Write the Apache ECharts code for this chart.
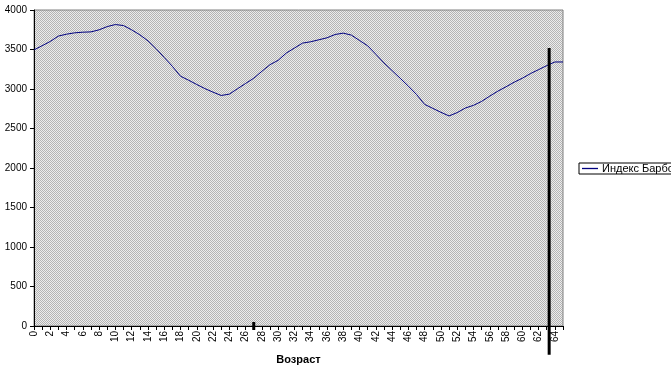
<!DOCTYPE html>
<html>
<head>
<meta charset="utf-8">
<script src="https://cdn.jsdelivr.net/npm/echarts@6/dist/echarts.min.js"></script>
<style>
	html, body { margin: 0; padding: 0; background: #fff; }
	#chart { width: 671px; height: 370px; }
</style>
</head>
<body>
<div id="chart"></div>
<script>
// возраст 0..65
var ages = [];
for (var i = 0; i <= 65; i++) { ages.push(i); }

// Индекс Барбса
var barbs = [3495, 3548, 3602, 3670, 3694, 3711, 3719, 3723, 3749, 3790,
	3816, 3803, 3749, 3686, 3610, 3510, 3400, 3287, 3162, 3111,
	3057, 3005, 2960, 2918, 2935, 3003, 3070, 3136, 3224, 3308,
	3363, 3455, 3518, 3581, 3598, 3623, 3648, 3690, 3707, 3682,
	3614, 3547, 3440, 3330, 3233, 3136, 3036, 2931, 2805, 2755,
	2705, 2659, 2701, 2759, 2793, 2843, 2910, 2973, 3028, 3086,
	3136, 3195, 3245, 3296, 3342, 3342];

var yTicks = [0, 500, 1000, 1500, 2000, 2500, 3000, 3500, 4000];

// вертикальная отметка
var markAge = 63.3;
var markTop = 3520;
var markBottom = -365;
var tickAge = 27;

window.onload = function () {
	var chart = echarts.init(document.getElementById('chart'));

	// серая штриховка как в Excel
	var pat = document.createElement('canvas');
	pat.width = 2;
	pat.height = 2;
	var ctx = pat.getContext('2d');
	ctx.fillStyle = '#ececec';
	ctx.fillRect(0, 0, 2, 2);
	ctx.fillStyle = '#b4b4b4';
	ctx.fillRect(0, 0, 1, 1);
	ctx.fillRect(1, 1, 1, 1);

	var pts = [];
	for (var k = 0; k < ages.length; k++) {
		pts.push([ages[k], barbs[k]]);
	}

	var option = {
		animation: false,
		textStyle: { fontFamily: 'Liberation Sans, Arial, sans-serif', color: '#000' },
		grid: {
			left: 34,
			top: 10,
			right: 108,
			bottom: 42,
			show: true,
			backgroundColor: { image: pat, repeat: 'repeat' },
			borderColor: '#808080',
			borderWidth: 1
		},
		legend: {
			left: 579,
			top: 163,
			orient: 'horizontal',
			data: ['Индекс Барбса'],
			icon: 'path://M0,0 L16,0 L16,1.3 L0,1.3 Z',
			borderColor: '#000',
			borderWidth: 1,
			borderRadius: 0,
			padding: [0, 30, 0, 3],
			itemWidth: 16,
			itemHeight: 12,
			itemGap: 4,
			itemStyle: { color: '#000080' },
			textStyle: { fontSize: 11, color: '#000', fontFamily: 'Liberation Sans, Arial, sans-serif', padding: [0, 0, 0, -1] }
		},
		xAxis: {
			type: 'value',
			min: 0,
			max: 65,
			interval: 1,
			name: 'Возраст',
			nameLocation: 'middle',
			nameGap: 28,
			nameTextStyle: { fontWeight: 'bold', fontSize: 11, color: '#000' },
			axisLine: { show: true, lineStyle: { color: '#000', width: 1 } },
			axisTick: { show: true, length: 4, inside: false, lineStyle: { color: '#000' } },
			splitLine: { show: false },
			axisLabel: {
				rotate: 90,
				fontSize: 10,
				color: '#000',
				margin: 5,
				showMaxLabel: true,
				formatter: function (v) { return v % 2 === 0 ? String(v) : ''; }
			}
		},
		yAxis: {
			type: 'value',
			min: 0,
			max: 4000,
			interval: 500,
			axisLine: { show: true, lineStyle: { color: '#000', width: 1 } },
			axisTick: { show: true, length: 4, lineStyle: { color: '#000' } },
			splitLine: { show: false },
			axisLabel: {
				fontSize: 10,
				color: '#000',
				margin: 7,
				customValues: yTicks,
				formatter: function (v) { return String(v); }
			}
		},
		series: [{
			name: 'Индекс Барбса',
			type: 'line',
			data: pts,
			symbol: 'none',
			smooth: false,
			lineStyle: { color: '#000080', width: 1 },
			itemStyle: { color: '#000080' }
		}]
	};
	chart.setOption(option);

	var p1 = chart.convertToPixel({ xAxisIndex: 0, yAxisIndex: 0 }, [markAge, markTop]);
	var p2 = chart.convertToPixel({ xAxisIndex: 0, yAxisIndex: 0 }, [markAge, markBottom]);
	var t1 = chart.convertToPixel({ xAxisIndex: 0, yAxisIndex: 0 }, [tickAge, 0]);

	chart.setOption({
		graphic: [{
			type: 'line',
			shape: { x1: p1[0], y1: p1[1], x2: p2[0], y2: p2[1] },
			style: { stroke: '#000', lineWidth: 3 },
			z: 100
		}, {
			type: 'line',
			shape: { x1: t1[0], y1: t1[1] - 4, x2: t1[0], y2: t1[1] + 4 },
			style: { stroke: '#000', lineWidth: 3 },
			z: 100
		}]
	});
};
</script>
</body>
</html>
